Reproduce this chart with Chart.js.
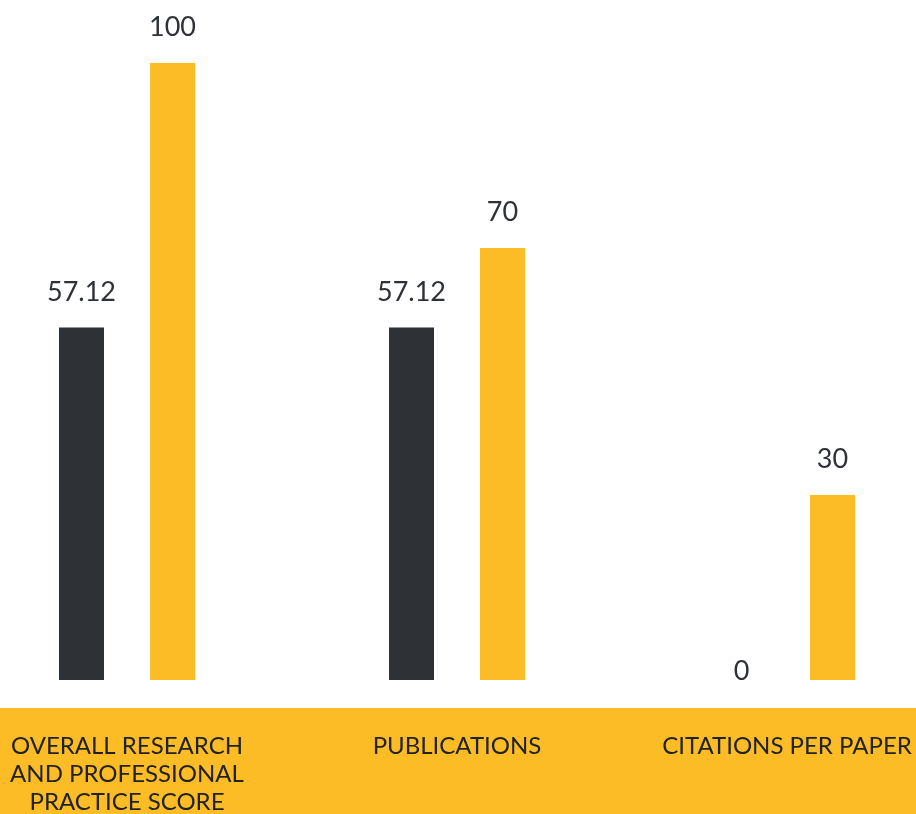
<!DOCTYPE html>
<html>
<head>
<meta charset="utf-8">
<script src="https://cdn.jsdelivr.net/npm/chart.js@4/dist/chart.umd.min.js"></script>
<style>
  html, body { margin: 0; padding: 0; background: #fff; overflow: hidden; }
  body { width: 916px; height: 814px; position: relative; }
  #wrap { position: absolute; left: -38px; top: 0; width: 990px; height: 818px; }
</style>
</head>
<body>
<div id="wrap"><canvas id="scoreChart"></canvas></div>
<script>
// Categories and the two score series
const categories = [
  ['OVERALL RESEARCH', 'AND PROFESSIONAL', 'PRACTICE SCORE'],
  'PUBLICATIONS',
  'CITATIONS PER PAPER'
];
const scoreValues = [57.12, 57.12, 0];
const maxValues = [100, 70, 30];

const DARK = '#2e3136';
const YELLOW = '#fcbc25';

// yellow strip behind the category labels
const bandPlugin = {
  id: 'band',
  beforeDraw(chart) {
    const { ctx, chartArea, width, height } = chart;
    ctx.save();
    ctx.fillStyle = YELLOW;
    ctx.fillRect(0, chartArea.bottom + 28, width, height);
    ctx.restore();
  }
};

// numbers above each bar
const valueLabels = {
  id: 'valueLabels',
  afterDatasetsDraw(chart) {
    const ctx = chart.ctx;
    ctx.save();
    ctx.font = '27px Lato';
    ctx.fillStyle = DARK;
    ctx.textAlign = 'center';
    ctx.textBaseline = 'alphabetic';
    chart.data.datasets.forEach((ds, i) => {
      chart.getDatasetMeta(i).data.forEach((bar, j) => {
        const v = ds.data[j];
        const y = v === 0 ? bar.base : bar.y - 27;
        ctx.fillText(String(v), bar.x, y);
      });
    });
    ctx.restore();
  }
};

new Chart(document.getElementById('scoreChart'), {
  type: 'bar',
  data: {
    labels: categories,
    datasets: [
      { label: 'Score', data: scoreValues, backgroundColor: DARK },
      { label: 'Max', data: maxValues, backgroundColor: YELLOW }
    ]
  },
  options: {
    responsive: true,
    maintainAspectRatio: false,
    animation: false,
    categoryPercentage: 0.5515,
    barPercentage: 0.4945,
    layout: { padding: { top: 63, left: 0, right: 0, bottom: 0 } },
    plugins: {
      legend: { display: false },
      tooltip: { enabled: false }
    },
    scales: {
      x: {
        grid: { display: false, drawTicks: false },
        border: { display: false },
        afterFit(scale) {
          // fixed label strip, no side padding from the wide labels
          scale.height = 138;
          scale.paddingLeft = 0;
          scale.paddingRight = 0;
        },
        ticks: {
          autoSkip: false,
          maxRotation: 0,
          padding: 52,
          color: '#222',
          font: { family: 'Lato', size: 24, lineHeight: 28 / 24 }
        }
      },
      y: {
        display: false,
        min: 0,
        max: 100
      }
    }
  },
  plugins: [bandPlugin, valueLabels]
});
</script>
</body>
</html>
